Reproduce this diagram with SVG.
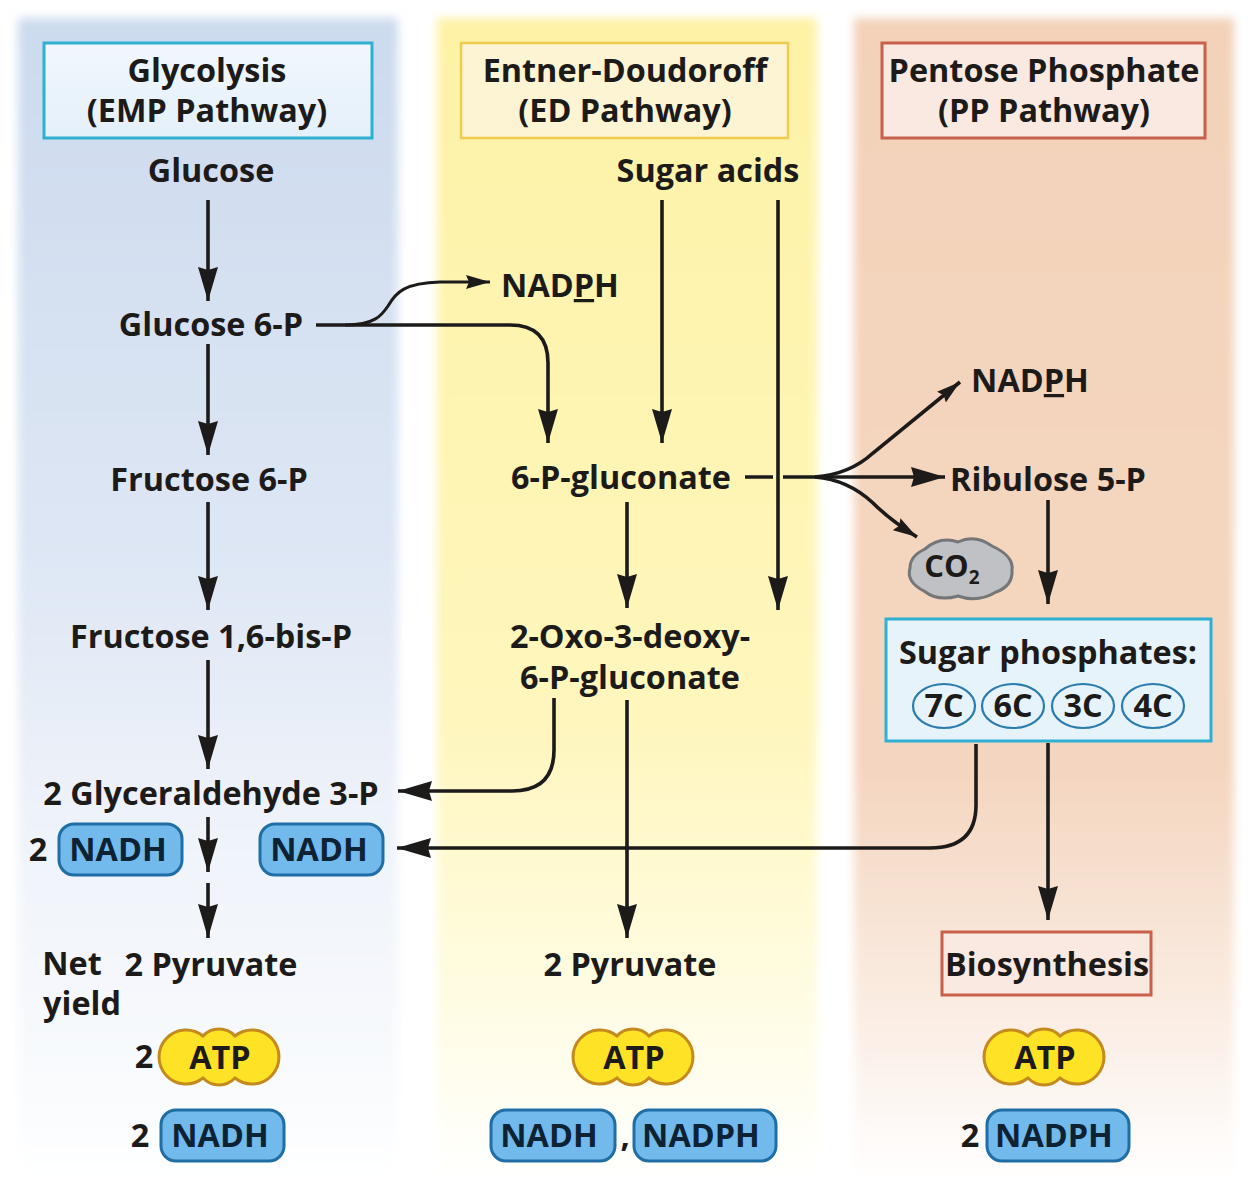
<svg xmlns="http://www.w3.org/2000/svg" width="1250" height="1200" viewBox="0 0 1250 1200">
<style>
text{font-family:"Open Sans","Liberation Sans",sans-serif;font-weight:700;font-size:32.4px;fill:#1d1b1a;text-anchor:middle}
.c{fill:none;stroke:#1d1b1a;stroke-width:3.6}
.n{fill:#72b9ec;stroke:#1f6ea5;stroke-width:3}
.a{fill:#fde226;stroke:#c58a1e;stroke-width:3}
.o{fill:#e6f3fb;stroke:#2a7cae;stroke-width:2.2}
.b{fill:#0d2233}
.u{text-decoration:underline;text-decoration-thickness:2px;text-underline-offset:3px}
</style>
<defs>
<filter id="soft" x="-5%" y="-2%" width="110%" height="104%"><feGaussianBlur stdDeviation="5"/></filter>
<linearGradient id="gb" x1="0" y1="0" x2="0" y2="1"><stop offset="0" stop-color="#ccdaee"/><stop offset=".45" stop-color="#dde6f4"/><stop offset=".7" stop-color="#eff3fa"/><stop offset=".9" stop-color="#f8fafd"/><stop offset="1" stop-color="#ffffff"/></linearGradient>
<linearGradient id="gy" x1="0" y1="0" x2="0" y2="1"><stop offset="0" stop-color="#fef2a6"/><stop offset=".6" stop-color="#fef6bc"/><stop offset=".85" stop-color="#fffce4"/><stop offset="1" stop-color="#ffffff"/></linearGradient>
<linearGradient id="go" x1="0" y1="0" x2="0" y2="1"><stop offset="0" stop-color="#f3d2b9"/><stop offset=".65" stop-color="#f4d6c0"/><stop offset=".85" stop-color="#faece2"/><stop offset="1" stop-color="#ffffff"/></linearGradient>
<linearGradient id="hb" x1="0" y1="0" x2="0" y2="1"><stop offset="0" stop-color="#f1f7fd"/><stop offset="1" stop-color="#e4f0fa"/></linearGradient>
<marker id="ah" viewBox="0 0 34 22" refX="34" refY="11" markerWidth="34" markerHeight="22" markerUnits="userSpaceOnUse" orient="auto"><path d="M0 1L34 11L0 21L3 11Z" fill="#1d1b1a"/></marker>
<marker id="as" viewBox="0 0 24 16" refX="24" refY="8" markerWidth="24" markerHeight="16" markerUnits="userSpaceOnUse" orient="auto"><path d="M0 1L24 8L0 15L3 8Z" fill="#1d1b1a"/></marker>
<path id="atp" d="M203 1036A22 22 0 0 1 235 1036A27 27 0 1 1 235 1078A22 22 0 0 1 203 1078A27 27 0 1 1 203 1036Z"/>
</defs>
<g id="bands" filter="url(#soft)">
<rect x="18" y="18" width="380" height="1164" fill="url(#gb)"/>
<rect x="437" y="18" width="380" height="1164" fill="url(#gy)"/>
<rect x="854" y="18" width="380" height="1164" fill="url(#go)"/>
</g>
<g id="connectors">
<path class="c" marker-end="url(#ah)" d="M208 200V301"/>
<path class="c" marker-end="url(#ah)" d="M208 344V455"/>
<path class="c" marker-end="url(#ah)" d="M208 502V610"/>
<path class="c" marker-end="url(#ah)" d="M208 660V769"/>
<path class="c" marker-end="url(#ah)" d="M208 817V872"/>
<path class="c" marker-end="url(#ah)" d="M208 883V938"/>
<path class="c" marker-end="url(#ah)" d="M316 325H510Q548 325 548 363V443"/>
<path class="c" style="stroke-width:3" marker-end="url(#as)" d="M345 325C375 325 382 315 388 306C396 292 405 283 440 282H490"/>
<path class="c" marker-end="url(#ah)" d="M662 200V443"/>
<path class="c" marker-end="url(#ah)" d="M778 200V610"/>
<path class="c" d="M745 477H773M783 477H830"/>
<path class="c" marker-end="url(#ah)" d="M815 477H945"/>
<path class="c" marker-end="url(#as)" d="M815 477C840 475 860 465 873 453L960 382"/>
<path class="c" marker-end="url(#as)" d="M815 477C840 479 858 489 873 503Q890 520 917 537"/>
<path class="c" marker-end="url(#ah)" d="M627 502V608"/>
<path class="c" marker-end="url(#ah)" d="M627 700V938"/>
<path class="c" marker-end="url(#ah)" d="M554 698V750Q554 791 512 791H398"/>
<path class="c" marker-end="url(#ah)" d="M976 744V805Q976 848 930 848H397"/>
<path class="c" marker-end="url(#ah)" d="M1048 500V604"/>
<path class="c" marker-end="url(#ah)" d="M1048 743V920"/>
</g>
<g id="glycolysis-header"><rect x="44" y="43" width="328" height="95" fill="url(#hb)" stroke="#2fb0d2" stroke-width="3"/><text x="207" y="82">Glycolysis</text><text x="207" y="122">(EMP Pathway)</text></g>
<g id="ed-header"><rect x="461" y="43" width="327" height="95" fill="#fdf4d4" stroke="#efcc4e" stroke-width="2.5"/><text x="625" y="82">Entner-Doudoroff</text><text x="625" y="122">(ED Pathway)</text></g>
<g id="pp-header"><rect x="882" y="43" width="323" height="95" fill="#f9e9e1" stroke="#c8604c" stroke-width="3"/><text x="1044" y="82">Pentose Phosphate</text><text x="1044" y="122">(PP Pathway)</text></g>
<g id="glucose"><text x="211" y="182">Glucose</text></g>
<g id="sugar-acids"><text x="708" y="182">Sugar acids</text></g>
<g id="glucose-6p"><text x="211" y="336">Glucose 6-P</text></g>
<g id="nadph-ed"><text x="560" y="297">NAD<tspan class="u">P</tspan>H</text></g>
<g id="nadph-pp"><text x="1030" y="392">NAD<tspan class="u">P</tspan>H</text></g>
<g id="fructose-6p"><text x="209" y="491">Fructose 6-P</text></g>
<g id="p-gluconate"><text x="621" y="489">6-P-gluconate</text></g>
<g id="ribulose"><text x="1048" y="491">Ribulose 5-P</text></g>
<g id="co2"><path d="M925 549Q940 536 958 542Q975 534 992 546Q1014 556 1012 570Q1013 586 996 592Q978 603 958 596Q938 602 924 591Q906 582 910 568Q910 556 925 549Z" fill="#bfc1c4" stroke="#757678" stroke-width="3"/><text x="952" y="577" style="font-size:31px">CO<tspan dy="7" style="font-size:19px">2</tspan></text></g>
<g id="fructose-bis"><text x="211" y="648">Fructose 1,6-bis-P</text></g>
<g id="oxo"><text x="630" y="648">2-Oxo-3-deoxy-</text><text x="630" y="689">6-P-gluconate</text></g>
<g id="sugar-phosphates"><rect x="886" y="619" width="325" height="122" fill="#e6f3fb" stroke="#2fb0d2" stroke-width="3"/><text x="1048" y="664">Sugar phosphates:</text>
<ellipse class="o" cx="944" cy="706" rx="31" ry="22"/><ellipse class="o" cx="1013" cy="706" rx="31" ry="22"/><ellipse class="o" cx="1083" cy="706" rx="31" ry="22"/><ellipse class="o" cx="1153" cy="706" rx="31" ry="22"/>
<text x="944" y="717">7C</text><text x="1013" y="717">6C</text><text x="1083" y="717">3C</text><text x="1153" y="717">4C</text></g>
<g id="g3p"><text x="211" y="805">2 Glyceraldehyde 3-P</text></g>
<g id="nadh-a"><text x="38" y="861">2</text><rect class="n" x="59" y="824" width="123" height="51" rx="15"/><text class="b" x="118" y="861">NADH</text></g>
<g id="nadh-b"><rect class="n" x="260" y="824" width="123" height="51" rx="15"/><text class="b" x="319" y="861">NADH</text></g>
<g id="net-yield"><text x="72" y="975">Net</text><text x="82" y="1015">yield</text></g>
<g id="pyruvate-a"><text x="211" y="976">2 Pyruvate</text></g>
<g id="pyruvate-b"><text x="630" y="976">2 Pyruvate</text></g>
<g id="biosynthesis"><rect x="942" y="932" width="209" height="63" fill="#f9e9e1" stroke="#c8604c" stroke-width="3"/><text x="1047" y="976">Biosynthesis</text></g>
<g id="atp-a"><text x="144" y="1068">2</text><use href="#atp" class="a"/><text x="220" y="1069">ATP</text></g>
<g id="atp-b"><use href="#atp" class="a" x="414"/><text x="634" y="1069">ATP</text></g>
<g id="atp-c"><use href="#atp" class="a" x="825"/><text x="1045" y="1069">ATP</text></g>
<g id="nadh-c"><text x="140" y="1147">2</text><rect class="n" x="161" y="1110" width="123" height="51" rx="15"/><text class="b" x="220" y="1147">NADH</text></g>
<g id="nadh-d"><rect class="n" x="491" y="1110" width="124" height="51" rx="15"/><text class="b" x="549" y="1147">NADH</text></g>
<text x="625" y="1147" id="comma">,</text>
<g id="nadph-d"><rect class="n" x="634" y="1110" width="142" height="51" rx="15"/><text class="b" x="701" y="1147">NADPH</text></g>
<g id="nadph-e"><text x="970" y="1147">2</text><rect class="n" x="987" y="1110" width="142" height="51" rx="15"/><text class="b" x="1054" y="1147">NADPH</text></g>
</svg>
